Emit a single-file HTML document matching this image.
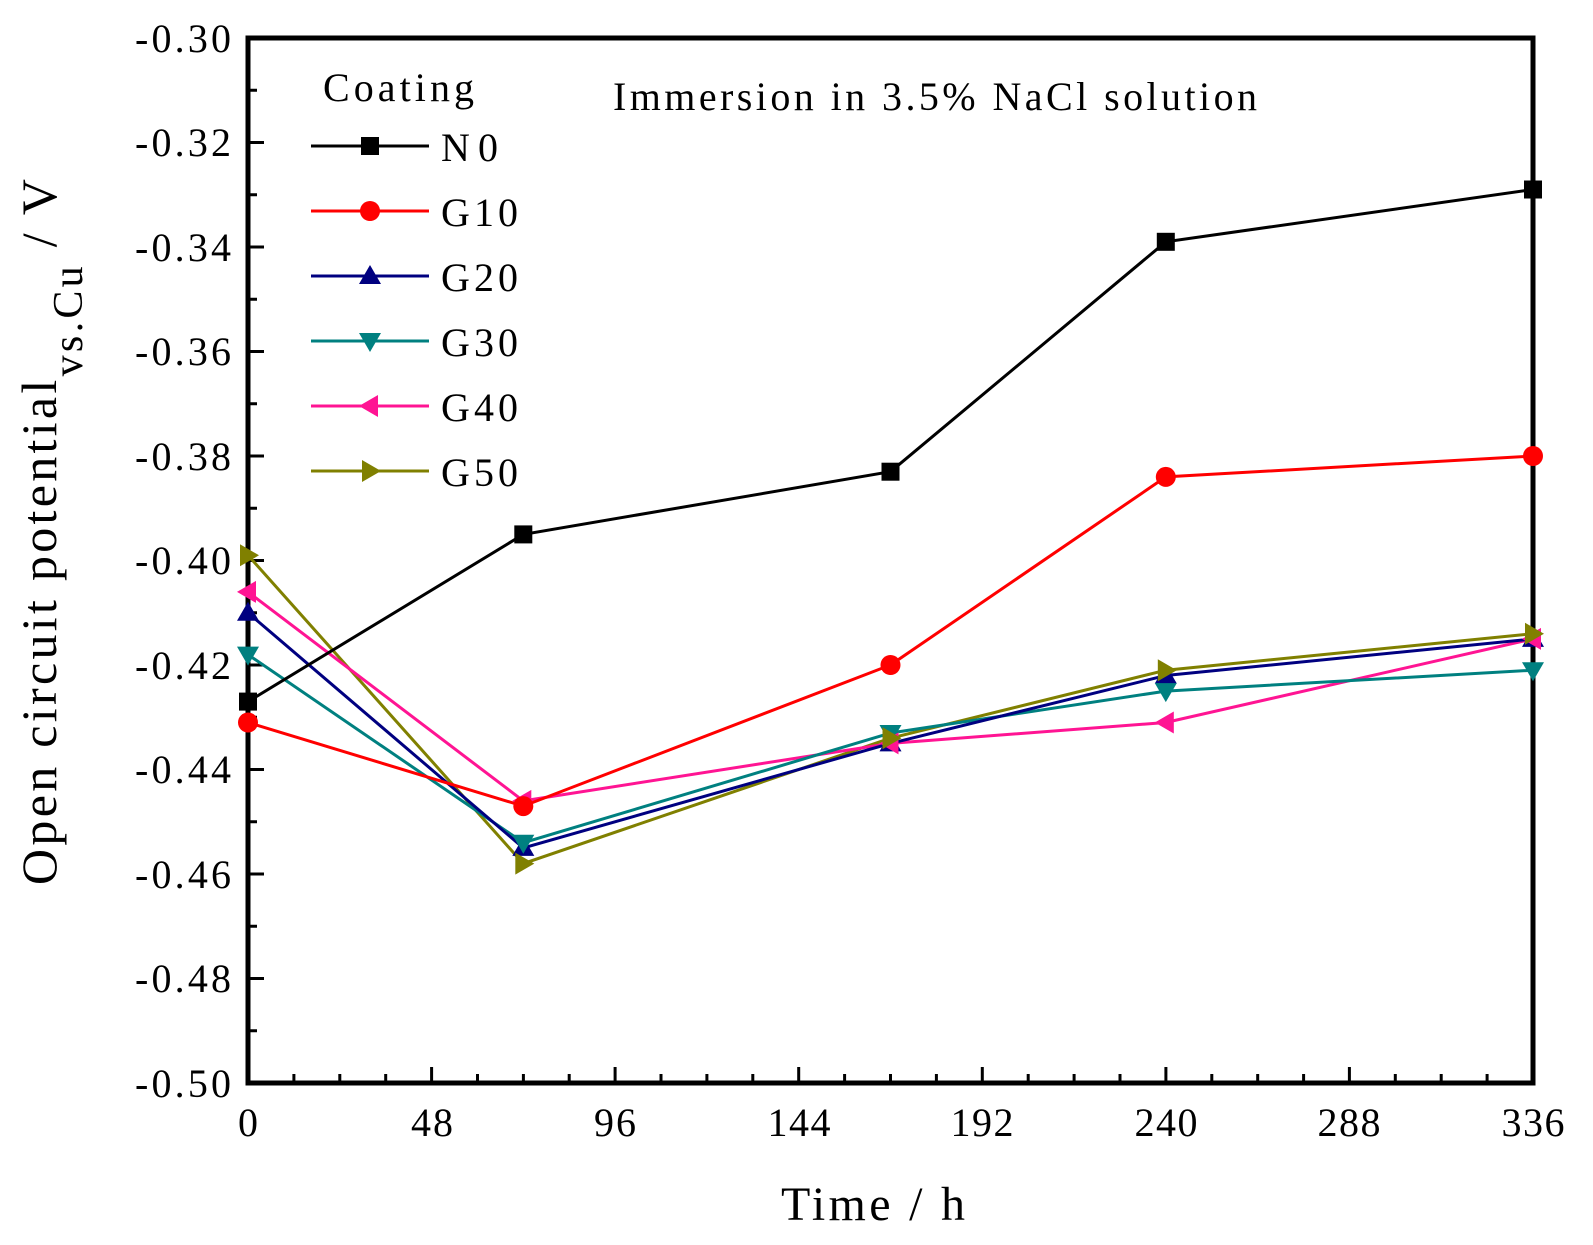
<!DOCTYPE html><html><head><style>body{margin:0;background:#fff}svg{display:block}text{font-family:"Liberation Serif",serif}</style></head><body>
<svg width="1593" height="1245" viewBox="0 0 1593 1245">
<defs>
<rect id="sq" x="-9" y="-9" width="18" height="18"/>
<circle id="ci" r="10"/>
<polygon id="tu" points="0,-11 11,8 -11,8"/>
<polygon id="td" points="0,11 11,-8 -11,-8"/>
<polygon id="tl" points="-11,0 8,-11 8,11"/>
<polygon id="tr" points="11,0 -8,-11 -8,11"/>
</defs>
<g stroke="#000" stroke-width="3">
<path d="M293.9 1083v-9M339.8 1083v-9M385.7 1083v-9M431.6 1083v-16M477.5 1083v-9M523.4 1083v-9M569.2 1083v-9M615.1 1083v-16M661 1083v-9M706.9 1083v-9M752.8 1083v-9M798.7 1083v-16M844.6 1083v-9M890.5 1083v-9M936.4 1083v-9M982.3 1083v-16M1028.2 1083v-9M1074.1 1083v-9M1120 1083v-9M1165.9 1083v-16M1211.8 1083v-9M1257.7 1083v-9M1303.6 1083v-9M1349.4 1083v-16M1395.3 1083v-9M1441.2 1083v-9M1487.1 1083v-9"/>
<path d="M248 90.3h9M248 142.5h16M248 194.8h9M248 247h16M248 299.3h9M248 351.5h16M248 403.8h9M248 456h16M248 508.3h9M248 560.5h16M248 612.8h9M248 665h16M248 717.3h9M248 769.5h16M248 821.8h9M248 874h16M248 926.3h9M248 978.5h16M248 1030.8h9"/>
</g>
<rect x="248" y="38" width="1285" height="1045" fill="none" stroke="#000" stroke-width="5"/>
<g font-size="40" text-anchor="end">
<text x="231" y="52" textLength="96">-0.30</text><text x="231" y="156" textLength="96">-0.32</text><text x="231" y="261" textLength="96">-0.34</text><text x="231" y="365" textLength="96">-0.36</text><text x="231" y="470" textLength="96">-0.38</text><text x="231" y="574" textLength="96">-0.40</text><text x="231" y="679" textLength="96">-0.42</text><text x="231" y="783" textLength="96">-0.44</text><text x="231" y="888" textLength="96">-0.46</text><text x="231" y="992" textLength="96">-0.48</text><text x="231" y="1097" textLength="96">-0.50</text>
</g>
<g font-size="40" text-anchor="middle">
<text x="248" y="1136">0</text><text x="432" y="1136" textLength="42">48</text><text x="615" y="1136" textLength="42">96</text><text x="799" y="1136" textLength="63">144</text><text x="982" y="1136" textLength="63">192</text><text x="1166" y="1136" textLength="63">240</text><text x="1349" y="1136" textLength="63">288</text><text x="1533" y="1136" textLength="63">336</text>
</g>
<text x="873" y="1220" font-size="48" text-anchor="middle" textLength="184">Time / h</text>
<text transform="translate(56,532) rotate(-90)" font-size="50" text-anchor="middle" textLength="706">Open circuit potential<tspan font-size="42" dy="26">vs.Cu</tspan><tspan dy="-26"> / V</tspan></text>
<text x="613" y="110" font-size="40" textLength="644">Immersion in 3.5% NaCl solution</text>
<text x="323" y="101" font-size="40" textLength="151">Coating</text>
<g fill="none" stroke-width="3">
<polyline stroke="#808000" points="248,555.3 523.3,863.6 890.5,738.2 1165.8,670.2 1533,633.7"/>
<polyline stroke="#ff1493" points="248,591.9 523.3,800.9 890.5,743.4 1165.8,722.5 1533,638.9"/>
<polyline stroke="#008080" points="248,654.6 523.3,842.7 890.5,733 1165.8,691.1 1533,670.2"/>
<polyline stroke="#000080" points="248,612.8 523.3,847.9 890.5,743.4 1165.8,675.5 1533,638.9"/>
<polyline stroke="#ff0000" points="248,722.5 523.3,806.1 890.5,665 1165.8,476.9 1533,456"/>
<polyline stroke="#000" points="248,701.6 523.3,534.4 890.5,471.7 1165.8,241.8 1533,189.5"/>
</g>
<g fill="#000080"><use href="#tu" x="248" y="612.8"/><use href="#tu" x="523.3" y="847.9"/><use href="#tu" x="890.5" y="743.4"/><use href="#tu" x="1165.8" y="675.5"/><use href="#tu" x="1533" y="638.9"/></g>
<g fill="#008080"><use href="#td" x="248" y="654.6"/><use href="#td" x="523.3" y="842.7"/><use href="#td" x="890.5" y="733"/><use href="#td" x="1165.8" y="691.1"/><use href="#td" x="1533" y="670.2"/></g>
<g fill="#ff1493"><use href="#tl" x="248" y="591.9"/><use href="#tl" x="523.3" y="800.9"/><use href="#tl" x="890.5" y="743.4"/><use href="#tl" x="1165.8" y="722.5"/><use href="#tl" x="1533" y="638.9"/></g>
<g fill="#ff0000"><use href="#ci" x="248" y="722.5"/><use href="#ci" x="523.3" y="806.1"/><use href="#ci" x="890.5" y="665"/><use href="#ci" x="1165.8" y="476.9"/><use href="#ci" x="1533" y="456"/></g>
<g fill="#808000"><use href="#tr" x="248" y="555.3"/><use href="#tr" x="523.3" y="863.6"/><use href="#tr" x="890.5" y="738.2"/><use href="#tr" x="1165.8" y="670.2"/><use href="#tr" x="1533" y="633.7"/></g>
<g fill="#000"><use href="#sq" x="248" y="701.6"/><use href="#sq" x="523.3" y="534.4"/><use href="#sq" x="890.5" y="471.7"/><use href="#sq" x="1165.8" y="241.8"/><use href="#sq" x="1533" y="189.5"/></g>
<g stroke-width="3">
<line x1="311" x2="429" y1="146" y2="146" stroke="#000"/><use href="#sq" x="370" y="146" fill="#000"/>
<line x1="311" x2="429" y1="211" y2="211" stroke="#ff0000"/><use href="#ci" x="370" y="211" fill="#ff0000"/>
<line x1="311" x2="429" y1="276" y2="276" stroke="#000080"/><use href="#tu" x="370" y="276" fill="#000080"/>
<line x1="311" x2="429" y1="341" y2="341" stroke="#008080"/><use href="#td" x="370" y="341" fill="#008080"/>
<line x1="311" x2="429" y1="406" y2="406" stroke="#ff1493"/><use href="#tl" x="370" y="406" fill="#ff1493"/>
<line x1="311" x2="429" y1="471" y2="471" stroke="#808000"/><use href="#tr" x="370" y="471" fill="#808000"/>
</g>
<g font-size="40">
<text x="441" y="161" textLength="57">N0</text><text x="441" y="226" textLength="77">G10</text><text x="441" y="291" textLength="77">G20</text><text x="441" y="356" textLength="77">G30</text><text x="441" y="421" textLength="77">G40</text><text x="441" y="486" textLength="77">G50</text>
</g>
</svg></body></html>
